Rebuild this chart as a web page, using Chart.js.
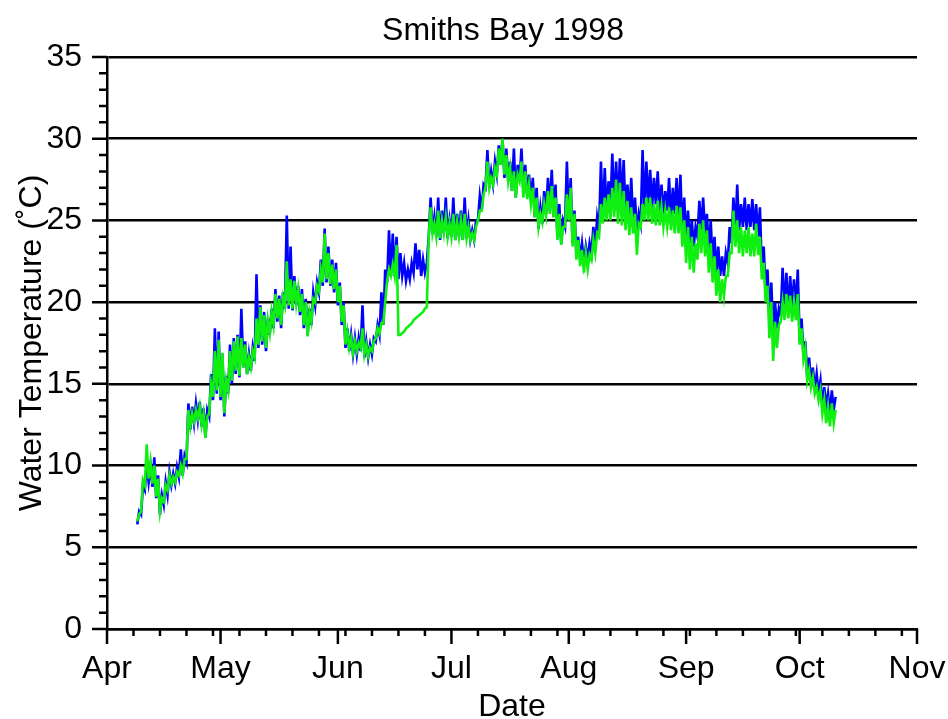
<!DOCTYPE html>
<html>
<head>
<meta charset="utf-8">
<script src="https://cdn.jsdelivr.net/npm/chart.js@4/dist/chart.umd.min.js"></script>
<style>
  html, body { margin: 0; padding: 0; background: #fff; }
</style>
</head>
<body>
<canvas id="canvas" width="948" height="719"></canvas>
<script>
// days counted from Apr 1 (Apr 1 = 0), first logged day is Apr 9
const firstDay = 8;

// daily high / low readings, one value per day from Apr 9 to Oct 10
const blueHigh = [
  7.2, 8.8, 10.2, 10.0, 10.5, 9.4, 8.2, 9.0, 9.6, 9.5,
  9.9, 11.0, 10.6, 13.8, 13.6, 13.8, 13.9, 13.5, 13.4, 15.6,
  18.4, 18.2, 16.8, 15.5, 17.4, 17.8, 18.0, 19.6, 17.6, 16.8,
  17.2, 21.7, 19.8, 19.4, 19.0, 19.6, 20.8, 20.4, 20.6, 25.3,
  23.4, 21.6, 21.0, 20.8, 20.2, 19.6, 20.6, 21.2, 22.6, 24.5,
  23.4, 22.6, 22.4, 21.2, 20.0, 18.4, 18.0, 17.8, 17.8, 19.8,
  17.6, 17.4, 17.8, 18.6, 20.6, 22.0, 24.4, 24.2, 24.0, 23.0,
  22.4, 22.0, 22.4, 23.6, 23.2, 22.6, 22.4, 26.4, 25.2, 26.4,
  25.6, 26.4, 25.0, 26.4, 25.4, 25.6, 26.4, 25.0, 24.4, 25.0,
  26.5, 27.2, 29.3, 28.0, 28.6, 29.6, 30.0, 29.4, 28.6, 29.4,
  28.4, 29.4, 28.4, 27.8, 27.6, 27.0, 25.8, 26.8, 27.6, 28.1,
  27.2, 26.0, 25.0, 28.6, 27.6, 25.6, 24.0, 23.6, 23.4, 23.6,
  24.6, 25.2, 28.6, 28.2, 27.4, 29.1, 28.6, 28.8, 28.7, 27.2,
  27.6, 26.4, 25.4, 29.3, 28.6, 28.1, 27.6, 28.0, 27.2, 26.8,
  27.6, 27.0, 27.6, 27.8, 26.4, 25.6, 25.0, 24.6, 26.2, 26.4,
  25.4, 25.0, 24.0, 23.4, 22.8, 23.0, 24.6, 26.4, 27.2, 26.0,
  26.4, 26.0, 26.3, 26.0, 25.8, 23.4, 22.0, 21.2, 20.0, 19.6,
  22.1, 21.8, 21.6, 21.4, 22.0, 19.0, 17.6, 16.6, 16.0, 15.6,
  15.2, 14.8, 14.4, 14.6, 14.2
];
const blueLow = [
  6.4, 7.0, 8.5, 9.0, 8.7, 8.0, 7.0, 7.6, 8.2, 8.8,
  8.9, 9.3, 9.4, 10.2, 12.2, 12.6, 12.8, 12.4, 11.7, 13.0,
  14.0, 14.4, 14.0, 13.0, 14.4, 15.0, 15.6, 15.4, 16.0, 15.6,
  15.8, 16.4, 17.2, 17.4, 17.0, 18.0, 18.4, 18.8, 18.4, 19.6,
  19.6, 19.5, 19.8, 19.2, 18.4, 18.0, 18.6, 19.8, 20.6, 21.0,
  21.2, 21.0, 20.6, 19.8, 18.6, 17.2, 17.0, 16.8, 16.8, 17.0,
  16.6, 16.6, 16.8, 17.6, 18.0, 18.6, 21.2, 21.6, 21.6, 21.4,
  21.6, 21.3, 21.4, 21.8, 22.0, 21.6, 21.8, 24.0, 24.2, 24.0,
  23.8, 24.2, 23.9, 24.0, 23.8, 24.0, 23.8, 23.9, 23.8, 23.8,
  25.0, 25.6, 27.0, 27.0, 27.2, 27.8, 28.4, 27.6, 27.4, 26.8,
  26.4, 27.4, 26.8, 26.6, 26.2, 25.2, 24.5, 24.8, 25.4, 25.6,
  25.2, 24.0, 23.6, 24.6, 25.0, 23.6, 23.0, 22.6, 22.4, 22.6,
  23.0, 23.4, 24.4, 25.0, 25.4, 25.6, 25.6, 25.8, 26.0, 25.4,
  25.2, 24.8, 24.2, 24.8, 25.6, 26.0, 25.8, 26.0, 25.6, 25.4,
  25.6, 25.0, 25.4, 25.0, 24.2, 23.8, 23.6, 23.4, 24.0, 24.4,
  24.2, 23.0, 22.4, 21.8, 21.6, 21.6, 22.4, 23.6, 24.2, 24.4,
  24.6, 24.4, 24.6, 24.4, 24.0, 22.0, 20.6, 19.0, 18.2, 18.4,
  19.2, 19.6, 19.4, 19.6, 19.6, 17.6, 16.8, 15.4, 15.0, 14.6,
  14.4, 13.6, 13.6, 13.2, 13.4
];
const greenHigh = [
  7.0, 9.1, 11.3, 10.2, 10.0, 9.2, 8.0, 8.8, 9.4, 9.3,
  9.6, 10.0, 10.4, 13.4, 13.2, 13.4, 13.6, 13.2, 13.0, 15.0,
  17.0, 17.7, 16.9, 15.2, 17.0, 17.6, 17.9, 17.8, 17.4, 16.6,
  17.0, 19.0, 19.7, 19.2, 18.9, 19.4, 20.5, 20.2, 20.3, 22.5,
  21.4, 21.3, 20.8, 20.5, 20.0, 19.4, 20.2, 21.0, 22.0, 24.2,
  23.0, 22.3, 22.0, 21.0, 19.8, 18.2, 17.8, 17.6, 17.5, 18.4,
  17.4, 17.2, 17.6, 18.4, 18.7, 20.0, 22.0, 22.3, 23.5, 18.0,
  18.2, 18.5, 18.7, 19.0, 19.2, 19.4, 19.7, 25.8, 24.8, 25.6,
  25.0, 25.2, 24.8, 25.4, 24.9, 25.0, 25.4, 24.6, 24.2, 24.6,
  25.6, 26.6, 28.6, 27.6, 28.2, 29.4, 30.0, 29.0, 28.2, 28.0,
  27.8, 28.6, 28.0, 27.2, 27.0, 26.4, 25.4, 26.0, 26.8, 27.1,
  26.4, 25.4, 24.6, 26.6, 27.0, 25.4, 23.8, 23.2, 23.0, 22.9,
  23.8, 24.2, 26.0, 26.4, 26.6, 27.0, 27.5, 27.3, 26.8, 26.2,
  25.8, 25.4, 24.8, 26.0, 26.4, 26.4, 26.0, 26.2, 25.8, 25.6,
  25.8, 25.6, 25.9, 25.8, 25.0, 24.6, 24.0, 23.6, 24.8, 25.0,
  24.4, 23.6, 22.8, 22.0, 21.4, 21.6, 23.0, 25.6, 25.0, 24.6,
  24.4, 24.6, 24.2, 24.8, 24.0, 22.4, 21.0, 20.0, 18.8, 18.6,
  20.0, 20.5, 20.4, 20.0, 20.5, 18.4, 17.2, 15.8, 15.4, 14.8,
  14.6, 14.0, 13.6, 13.8, 13.4
];
const greenLow = [
  6.6, 7.2, 8.8, 9.2, 8.9, 8.1, 7.2, 7.8, 8.5, 8.9,
  9.0, 9.4, 9.5, 10.4, 12.4, 12.7, 12.9, 12.5, 11.7, 13.2,
  14.2, 14.6, 14.2, 13.2, 14.6, 15.2, 15.8, 15.5, 16.0, 15.6,
  16.0, 16.6, 17.4, 17.6, 17.2, 18.1, 18.6, 19.0, 18.6, 19.8,
  19.8, 19.6, 19.9, 19.4, 18.6, 17.9, 18.8, 20.0, 20.7, 21.2,
  21.4, 21.1, 20.8, 20.0, 18.8, 17.4, 17.2, 16.9, 17.0, 17.2,
  16.8, 16.7, 17.0, 17.8, 18.1, 18.7, 21.3, 21.6, 21.6, 18.0,
  18.1, 18.4, 18.6, 18.9, 19.1, 19.3, 19.6, 24.0, 24.2, 24.0,
  23.9, 24.2, 24.0, 24.0, 23.8, 24.0, 23.8, 23.9, 23.8, 23.8,
  25.0, 25.6, 27.0, 27.0, 27.2, 27.8, 28.4, 27.8, 27.4, 26.8,
  26.4, 27.4, 26.4, 26.3, 26.0, 25.2, 24.6, 24.9, 25.3, 25.4,
  25.2, 23.8, 23.5, 24.6, 25.0, 23.4, 22.6, 22.2, 21.8, 22.0,
  22.6, 23.0, 24.0, 24.8, 25.0, 25.0, 25.2, 24.8, 24.7, 24.4,
  24.1, 24.2, 22.9, 24.6, 25.0, 25.0, 24.8, 24.7, 24.7, 24.6,
  24.6, 24.4, 24.2, 24.2, 23.4, 22.4, 22.0, 21.8, 22.6, 23.0,
  22.8, 21.8, 21.2, 20.4, 20.0, 20.4, 21.6, 23.0, 23.4, 23.0,
  22.8, 23.0, 22.8, 22.8, 22.9, 21.4, 20.0, 17.8, 16.4, 17.2,
  18.8, 18.9, 19.0, 18.8, 18.9, 17.4, 16.5, 15.2, 14.8, 14.4,
  14.0, 13.2, 12.6, 12.4, 12.6
];

const monthStarts = [0, 30, 61, 91, 122, 153, 183, 214];
const monthLabels = ["Apr", "May", "Jun", "Jul", "Aug", "Sep", "Oct", "Nov"];
const chartTitle = "Smiths Bay 1998";

const FONT = "'Liberation Sans', Arial, Helvetica, sans-serif";

// low reading at the start of each day, high half a day later
function dayPoints(high, low) {
  const pts = [];
  for (let i = 0; i < high.length; i++) {
    pts.push({ x: firstDay + i, y: low[i] });
    pts.push({ x: firstDay + i + 0.5, y: high[i] });
  }
  return pts;
}

// outward tick marks (long at months / every 5 degrees, short at weeks / every degree)
// plus the title, which sits a little left of the plot centre in the original
const decorations = {
  id: "decorations",
  afterDraw(chart) {
    const { ctx, chartArea: a } = chart;
    const xs = chart.scales.x, ys = chart.scales.y;
    ctx.save();
    ctx.strokeStyle = "#000";
    ctx.lineWidth = 2.5;
    ctx.beginPath();
    for (let v = 0; v <= 35; v++) {
      const py = ys.getPixelForValue(v);
      ctx.moveTo(a.left - (v % 5 === 0 ? 15 : 8), py);
      ctx.lineTo(a.left, py);
    }
    for (let d = 0; d <= 214; d += 7) {
      const px = xs.getPixelForValue(d);
      ctx.moveTo(px, a.bottom);
      ctx.lineTo(px, a.bottom + 7);
    }
    monthStarts.forEach(d => {
      const px = xs.getPixelForValue(d);
      ctx.moveTo(px, a.bottom);
      ctx.lineTo(px, a.bottom + 15);
    });
    ctx.stroke();

    ctx.fillStyle = "#000";
    ctx.font = "32px " + FONT;
    ctx.textAlign = "center";
    ctx.textBaseline = "middle";
    ctx.fillText(chartTitle, 503, 31);
    ctx.restore();
  }
};

new Chart(document.getElementById("canvas"), {
  type: "line",
  data: {
    datasets: [
      {
        label: "green",
        data: dayPoints(greenHigh, greenLow),
        borderColor: "#10f010",
        borderWidth: 2.6,
        pointRadius: 0,
        tension: 0,
        fill: false
      },
      {
        label: "blue",
        data: dayPoints(blueHigh, blueLow),
        borderColor: "#0000ff",
        borderWidth: 2.6,
        pointRadius: 0,
        tension: 0,
        fill: false
      }
    ]
  },
  options: {
    responsive: false,
    animation: false,
    devicePixelRatio: 1,
    layout: { padding: { left: 0, right: 31, top: 57, bottom: 0 } },
    plugins: {
      legend: { display: false },
      tooltip: { enabled: false },
      title: { display: false }
    },
    scales: {
      x: {
        type: "linear",
        min: 0,
        max: 214,
        afterBuildTicks: s => { s.ticks = monthStarts.map(v => ({ value: v })); },
        afterFit: s => { s.height = 90; s.paddingLeft = 0; s.paddingRight = 0; },
        grid: { display: false },
        border: { display: true, color: "#000", width: 2.5 },
        ticks: {
          autoSkip: false,
          maxRotation: 0,
          padding: 13,
          color: "#000",
          font: { family: FONT, size: 32 },
          callback: v => monthLabels[monthStarts.indexOf(v)] || ""
        },
        title: {
          display: true,
          text: "Date",
          color: "#000",
          font: { family: FONT, size: 32, lineHeight: 1 },
          padding: { top: 0, bottom: -4 }
        }
      },
      y: {
        min: 0,
        max: 35,
        afterFit: s => { s.width = 107; s.paddingTop = 0; s.paddingBottom = 0; },
        grid: { color: "#000", lineWidth: 2.5, drawTicks: false },
        border: { display: true, color: "#000", width: 2.5 },
        ticks: {
          stepSize: 5,
          padding: 25,
          color: "#000",
          font: { family: FONT, size: 32 }
        },
        title: {
          display: true,
          text: "Water Temperature (˚C)",
          color: "#000",
          font: { family: FONT, size: 32 },
          padding: { top: 13, bottom: 0 }
        }
      }
    }
  },
  plugins: [decorations]
});
</script>
</body>
</html>
